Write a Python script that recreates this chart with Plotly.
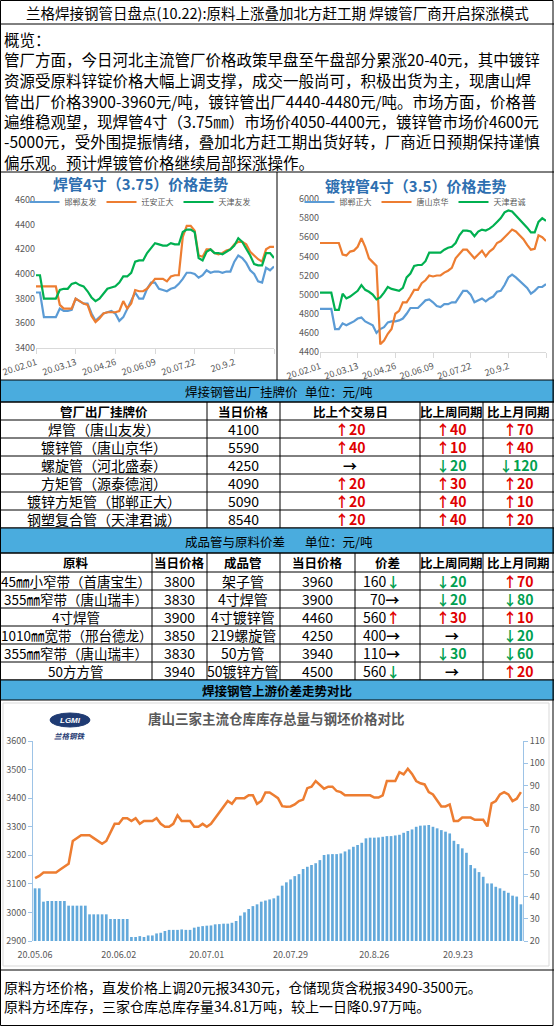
import plotly.graph_objects as go

W, H = 554, 1027
FONT = "Noto Sans CJK SC"
RED = "#E00000"
GREEN = "#00A050"
BAR_BLUE = "#4AACDE"
GRAY = "#595959"

# ---------------- text ----------------
title_text = "兰格焊接钢管日盘点(10.22):原料上涨叠加北方赶工期 焊镀管厂商开启探涨模式"
overview_lines = [
    "概览：",
    "管厂方面，今日河北主流管厂价格政策早盘至午盘部分累涨20-40元，其中镀锌",
    "资源受原料锌锭价格大幅上调支撑，成交一般尚可，积极出货为主，现唐山焊",
    "管出厂价格3900-3960元/吨，镀锌管出厂4440-4480元/吨。市场方面，价格普",
    "遍维稳观望，现焊管4寸（3.75㎜）市场价4050-4400元，镀锌管市场价4600元",
    "-5000元，受外围提振情绪，叠加北方赶工期出货好转，厂商近日预期保持谨慎",
    "偏乐观。预计焊镀管价格继续局部探涨操作。",
]
bottom_lines = [
    "原料方坯价格，直发价格上调20元报3430元，仓储现货含税报3490-3500元。",
    "原料方坯库存，三家仓库总库存量34.81万吨，较上一日降0.97万吨。",
]

# ---------------- chart 1: 焊管4寸 ----------------
weld_title = "焊管4寸（3.75）价格走势"
weld_tick_pos = [0, 10, 20, 30, 40, 50, 60]
weld_tick_labels = ["20.02.01", "20.03.13", "20.04.26", "20.06.09", "20.07.22", "20.9.2", ""]
weld_names = ["邯郸友发", "迁安正大", "天津友发"]
weld_handan = [3850, 3850, 3650, 3650, 3650, 3650, 3720, 3700, 3700, 3710,
               3800, 3780, 3760, 3760, 3680, 3620, 3650, 3680, 3690, 3700,
               3680, 3620, 3650, 3720, 3790, 3850, 3800, 3800, 3880, 3930,
               3930, 3880, 3870, 3860, 3880, 3890, 3920, 3960, 4010, 4010,
               4000, 3970, 3990, 4030, 4010, 4020, 4020, 4010, 4020, 4020,
               4100, 4150, 4130, 4090, 4030, 4000, 3940, 3930, 4050, 4030,
               4060]
weld_qianan = [3900, 3900, 3900, 3900, 3900, 3900, 3750, 3720, 3720, 3720,
               3800, 3780, 3760, 3750, 3660, 3610, 3640, 3680, 3690, 3690,
               3690, 3700, 3780, 3720, 3760, 3870, 3860, 3860, 3880, 3920,
               3960, 3960, 3960, 3940, 3980, 3990, 3990, 4300, 4390, 4390,
               4350, 4150, 4140, 4200, 4200, 4170, 4160, 4170, 4190, 4200,
               4240, 4260, 4260, 4240, 4180, 4150, 4120, 4100, 4200, 4220,
               4220]
weld_tianjin = [3990, 3990, 3800, 3800, 3800, 3800, 3870, 3880, 3880, 3920,
                3930, 3910, 3900, 3860, 3810, 3780, 3800, 3840, 3880, 3890,
                3900, 3930, 3980, 3980, 4010, 4100, 4110, 4110, 4170, 4210,
                4250, 4240, 4230, 4230, 4250, 4240, 4240, 4340, 4360, 4360,
                4340, 4130, 4110, 4180, 4200, 4170, 4170, 4160, 4180, 4200,
                4230, 4290, 4260, 4210, 4150, 4080, 4070, 4070, 4170, 4170,
                4130]

# ---------------- chart 2: 镀锌管4寸 ----------------
galv_title = "镀锌管4寸（3.5）价格走势"
galv_tick_pos = [0, 10, 20, 30, 40, 50, 60]
galv_tick_labels = ["20.02.01", "20.03.13", "20.04.26", "20.06.09", "20.07.22", "20.9.2", ""]
galv_names = ["邯郸正大", "唐山京华", "天津君诚"]
galv_handan = [4850, 4850, 4850, 4850, 4640, 4640, 4700, 4680, 4700, 4720,
               4750, 4760, 4720, 4700, 4680, 4600, 4640, 4660, 4710, 4720,
               4720, 4730, 4750, 4800, 4860, 4860, 4860, 4900, 4940, 4950,
               4920, 4880, 4870, 4900, 4900, 4920, 4920, 4980, 5040, 5040,
               5000, 4920, 4940, 4960, 4930, 4960, 4980, 5030, 5040, 5100,
               5180, 5210, 5180, 5140, 5100, 5070, 5010, 5040, 5080, 5080,
               5110]
galv_tangshan = [5540, 5540, 5540, 5540, 5540, 5540, 5420, 5410, 5450, 5460,
                 5500, 5590, 5500, 5380, 5340, 5300, 4480, 4520, 4590, 4640,
                 4800, 4830, 4920, 4920, 4980, 5050, 5050, 5120, 5150, 5200,
                 5190, 5200, 5200, 5230, 5250, 5280, 5380, 5430, 5470, 5470,
                 5420, 5380, 5420, 5460, 5400, 5450, 5480, 5540, 5560, 5600,
                 5640, 5680, 5660, 5620, 5580, 5520, 5470, 5480, 5620, 5600,
                 5560]
galv_tianjin = [5020, 5020, 5020, 5020, 4840, 4840, 5010, 4960, 4980, 5010,
                5040, 5100, 5050, 5030, 5000, 4950, 4970, 5020, 5080, 5060,
                5050, 5040, 5070, 5180, 5220, 5300, 5310, 5310, 5350, 5440,
                5440, 5440, 5440, 5470, 5490, 5500, 5540, 5620, 5670, 5670,
                5660, 5610, 5660, 5680, 5670, 5690, 5720, 5760, 5800, 5860,
                5880, 5870, 5830, 5780, 5740, 5700, 5650, 5650, 5760, 5800,
                5770]

# ---------------- table 1 ----------------
t1_title = "焊接钢管出厂挂牌价"
t1_unit = "单位：元/吨"
t1_headers = ["管厂出厂挂牌价", "当日价格", "比上个交易日", "比上周同期", "比上月同期"]
t1_products = ["焊管（唐山友发）", "镀锌管（唐山京华）", "螺旋管（河北盛泰）",
               "方矩管（源泰德润）", "镀锌方矩管（邯郸正大）", "钢塑复合管（天津君诚）"]
t1_price = [4100, 5590, 4250, 4090, 5090, 8540]
t1_day = [20, 40, 0, 20, 20, 20]
t1_week = [40, 10, -20, 30, 40, 40]
t1_month = [70, 40, -120, 20, 10, 20]

# ---------------- table 2 ----------------
t2_title = "成品管与原料价差"
t2_unit = "单位：元/吨"
t2_headers = ["原料", "当日价格", "成品管", "当日价格", "价差", "比上周同期", "比上月同期"]
t2_raw = ["45㎜小窄带（首唐宝生）", "355㎜窄带（唐山瑞丰）", "4寸焊管",
          "1010㎜宽带（邢台德龙）", "355㎜窄带（唐山瑞丰）", "50方方管"]
t2_raw_price = [3800, 3830, 3900, 3850, 3830, 3940]
t2_pipe = ["架子管", "4寸焊管", "4寸镀锌管", "219螺旋管", "50方管", "50镀锌方管"]
t2_pipe_price = [3960, 3900, 4460, 4250, 3940, 4500]
t2_spread = [160, 70, 560, 400, 110, 560]
t2_spread_trend = [-1, 0, 1, 0, 0, -1]
t2_week = [-20, -20, 30, 0, -30, 0]
t2_month = [70, -80, 10, -20, -60, 20]

section3_title = "焊接钢管上游价差走势对比"

# ---------------- bottom chart ----------------
stock_title = "唐山三家主流仓库库存总量与钢坯价格对比"
stock_tick_pos = [0, 20, 41, 61, 81, 101]
stock_tick_labels = ["20.05.06", "20.06.02", "20.07.01", "20.07.29", "20.8.26", "20.9.23"]
billet_price = [3120, 3128, 3140, 3140, 3140, 3140, 3150, 3160, 3170, 3250,
                3260, 3270, 3270, 3270, 3260, 3250, 3240, 3250, 3280, 3310,
                3310, 3330, 3330, 3320, 3330, 3310, 3320, 3320, 3320, 3330,
                3310, 3300, 3300, 3310, 3340, 3320, 3320, 3320, 3300, 3300,
                3310, 3300, 3310, 3330, 3350, 3370, 3390, 3380, 3400, 3400,
                3400, 3410, 3410, 3380, 3390, 3420, 3420, 3410, 3400, 3372,
                3370, 3371, 3378, 3390, 3395, 3435, 3440, 3460, 3445, 3433,
                3440, 3440, 3425, 3421, 3410, 3410, 3410, 3410, 3410, 3410,
                3410, 3402, 3402, 3410, 3460, 3460, 3460, 3491, 3483, 3503,
                3485, 3460, 3452, 3448, 3421, 3413, 3392, 3371, 3371, 3378,
                3320, 3320, 3332, 3332, 3332, 3324, 3324, 3324, 3301, 3382,
                3390, 3413, 3421, 3413, 3390, 3398, 3421]
stock_total = [43.7, 43.7, 37.7, 38.0, 38.0, 38.0, 38.0, 38.0, 35.9, 35.9,
               35.9, 35.9, 35.9, 32.0, 32.0, 32.0, 32.0, 32.0, 29.9, 29.9,
               29.9, 29.9, 29.9, 21.8, 21.8, 22.2, 21.8, 22.5, 22.5, 23.4,
               23.7, 24.5, 25.0, 25.0, 25.0, 25.2, 25.0, 25.0, 26.0, 26.4,
               26.7, 26.9, 27.0, 27.5, 27.6, 27.8, 27.8, 28.2, 29.0, 31.4,
               32.9, 34.4, 35.7, 36.5, 37.7, 38.2, 38.7, 39.2, 40.4,
               44.9, 46.4, 47.7, 49.2, 50.1, 52.4, 53.4, 54.2, 55.0, 56.4,
               58.7, 59.0, 59.1, 59.1, 59.4, 60.3, 61.2, 62.4, 63.2, 64.2,
               66.2, 66.5, 66.5, 66.6, 66.9, 67.2, 67.2, 67.5, 67.8, 68.7,
               69.5, 70.2, 71.4, 71.9, 72.0, 72.2, 71.4, 70.7, 69.9, 69.2,
               68.4, 65.1, 63.6, 61.7, 59.7, 54.2, 52.7, 51.0, 48.9, 45.9,
               45.9, 44.4, 43.7, 42.6, 41.7, 40.4, 40.0, 36.5]

# ---------------- helpers ----------------
def px_x(x):
    return x / W


def px_y(y):
    return 1 - y / H


annotations = []
shapes = []


def ann(x, y, text, size, color="#000000", bold=False, xanchor="center", family=FONT):
    if bold:
        text = "<b>" + text + "</b>"
    annotations.append(dict(x=px_x(x), y=px_y(y), xref="paper", yref="paper", text=text,
                            showarrow=False, xanchor=xanchor, yanchor="middle", borderpad=0,
                            font=dict(size=size, color=color, family=family)))


def seg(x0, y0, x1, y1, color="#000000", width=1):
    shapes.append(dict(type="line", xref="paper", yref="paper", x0=px_x(x0), y0=px_y(y0),
                       x1=px_x(x1), y1=px_y(y1), line=dict(color=color, width=width)))


def box(x0, y0, x1, y1, fill=None, color="#000000", width=1, kind="rect"):
    d = dict(type=kind, xref="paper", yref="paper", x0=px_x(x0), y0=px_y(y0),
             x1=px_x(x1), y1=px_y(y1), line=dict(color=color, width=width))
    if fill:
        d["fillcolor"] = fill
    shapes.append(d)


def chg(v):
    if v > 0:
        return '<span style="color:%s"><b>↑%d</b></span>' % (RED, v)
    if v < 0:
        return '<span style="color:%s"><b>↓%d</b></span>' % (GREEN, -v)
    return "<b>→</b>"


def trend_arrow(t):
    if t > 0:
        return '<span style="color:%s"><b>↑</b></span>' % RED
    if t < 0:
        return '<span style="color:%s"><b>↓</b></span>' % GREEN
    return "<b>→</b>"


fig = go.Figure()

# ---------------- small line charts ----------------
colors3 = ["#5B9BD5", "#ED7D31", "#00B050"]
for nm, vals, col in zip(weld_names, [weld_handan, weld_qianan, weld_tianjin], colors3):
    fig.add_trace(go.Scatter(y=vals, mode="lines", name=nm, line=dict(color=col, width=2.2),
                             xaxis="x", yaxis="y", legend="legend", hoverinfo="skip"))
for nm, vals, col in zip(galv_names, [galv_handan, galv_tangshan, galv_tianjin], colors3):
    fig.add_trace(go.Scatter(y=vals, mode="lines", name=nm, line=dict(color=col, width=2.2),
                             xaxis="x2", yaxis="y2", legend="legend2", hoverinfo="skip"))

# ---------------- bottom chart ----------------
fig.add_trace(go.Bar(y=stock_total, xaxis="x3", yaxis="y3", marker=dict(color="#63A9DB", line=dict(width=0)),
                     showlegend=False, hoverinfo="skip"))
fig.add_trace(go.Scatter(y=billet_price, mode="lines", xaxis="x3", yaxis="y4",
                         line=dict(color="#ED7D31", width=2.5), showlegend=False, hoverinfo="skip"))

tickfont = dict(size=9, color=GRAY, family=FONT)


def small_x(domain, tpos, tlab):
    return dict(domain=domain, range=[0, 60], showgrid=False, zeroline=False, showline=True,
                linecolor="#D9D9D9", linewidth=1, ticks="outside", ticklen=5, tickcolor="#D9D9D9",
                tickvals=tpos, ticktext=tlab, tickangle=-18, tickfont=tickfont, automargin=False)


def small_y(domain, rng):
    return dict(domain=domain, range=rng, dtick=200, showgrid=False, zeroline=False,
                showline=False, ticks="", tickfont=tickfont, automargin=False)


axis_blue = "#9DC3E6"

layout = dict(
    width=W, height=H, margin=dict(l=0, r=0, t=0, b=0, pad=0, autoexpand=False),
    paper_bgcolor="white", plot_bgcolor="white", showlegend=True, hovermode=False,
    bargap=0.36,
    xaxis=dict(small_x([px_x(36), px_x(274)], weld_tick_pos, weld_tick_labels), anchor="y"),
    yaxis=dict(small_y([px_y(348), px_y(200)], [3400, 4600]), anchor="x"),
    xaxis2=dict(small_x([px_x(320), px_x(546)], galv_tick_pos, galv_tick_labels), anchor="y2"),
    yaxis2=dict(small_y([px_y(352), px_y(199)], [4400, 6000]), anchor="x2"),
    xaxis3=dict(domain=[px_x(33), px_x(523)], range=[-0.5, 116.5], anchor="y3", showgrid=False,
                zeroline=False, showline=False, ticks="outside", ticklen=5,
                tickcolor="rgba(0,0,0,0)", tickvals=stock_tick_pos,
                ticktext=stock_tick_labels, tickangle=0, tickfont=tickfont, automargin=False),
    yaxis3=dict(domain=[px_y(941), px_y(741)], range=[20, 110], dtick=10, side="right", anchor="x3",
                showgrid=False, zeroline=False, showline=True, linecolor=axis_blue, ticks="outside",
                ticklen=4, tickcolor=axis_blue, tickfont=tickfont, automargin=False),
    yaxis4=dict(range=[2900, 3600], dtick=100, side="left", overlaying="y3", anchor="x3",
                showgrid=False, zeroline=False, showline=True, linecolor=axis_blue, ticks="outside",
                ticklen=4, tickcolor=axis_blue, tickfont=tickfont, automargin=False),
    legend=dict(orientation="h", x=px_x(140), xanchor="center", y=px_y(202), yanchor="middle",
                font=dict(size=8, color=GRAY, family=FONT), bgcolor="rgba(0,0,0,0)",
                itemwidth=30, itemclick=False),
    legend2=dict(orientation="h", x=px_x(415), xanchor="center", y=px_y(202), yanchor="middle",
                 font=dict(size=8, color=GRAY, family=FONT), bgcolor="rgba(0,0,0,0)",
                 itemwidth=30, itemclick=False),
)

# ---------------- header + overview ----------------
ann(277, 13, title_text, 14.5)
seg(0, 24, W, 24)
for k, line in enumerate(overview_lines):
    ann(3, 39 + 20.5 * k, line, 15.5, xanchor="left")
seg(0, 172, W, 172)
seg(277, 172, 277, 380)

ann(140, 183, weld_title, 15, color="#2E6FB0", bold=True)
ann(415, 185, galv_title, 15, color="#2E6FB0", bold=True)

# ---------------- table 1 ----------------
box(0, 380, W, 402, fill=BAR_BLUE)
ann(184, 391, t1_title, 12.5, xanchor="left")
ann(304, 391, t1_unit, 12.5, xanchor="left")
t1_edges = [0, 207, 280, 420, 483, W]
t1_top, t1_hh, t1_rh = 402, 18, 18
n1 = len(t1_products)
t1_bottom = t1_top + t1_hh + n1 * t1_rh
for r in range(n1 + 2):
    yy = t1_top if r == 0 else t1_top + t1_hh + (r - 1) * t1_rh
    seg(0, yy, W, yy)
for e in t1_edges[1:-1]:
    seg(e, t1_top, e, t1_bottom)
c1 = [(t1_edges[i] + t1_edges[i + 1]) / 2 for i in range(len(t1_edges) - 1)]
for i, h in enumerate(t1_headers):
    ann(c1[i], t1_top + t1_hh / 2, h, 12.5, bold=True)
for r in range(n1):
    yc = t1_top + t1_hh + r * t1_rh + t1_rh / 2
    ann(c1[0], yc, t1_products[r], 14)
    ann(c1[1], yc, str(t1_price[r]), 14)
    ann(c1[2], yc, chg(t1_day[r]), 14)
    ann(c1[3], yc, chg(t1_week[r]), 14)
    ann(c1[4], yc, chg(t1_month[r]), 14)

# ---------------- table 2 ----------------
box(0, t1_bottom, W, 553, fill=BAR_BLUE)
ann(184, 541, t2_title, 12.5, xanchor="left")
ann(304, 541, t2_unit, 12.5, xanchor="left")
t2_edges = [0, 152, 207, 280, 355, 420, 483, W]
t2_top, t2_hh, t2_rh = 553, 19, 18
n2 = len(t2_raw)
t2_bottom = t2_top + t2_hh + n2 * t2_rh
for r in range(n2 + 2):
    yy = t2_top if r == 0 else t2_top + t2_hh + (r - 1) * t2_rh
    seg(0, yy, W, yy)
for e in t2_edges[1:-1]:
    seg(e, t2_top, e, t2_bottom)
c2 = [(t2_edges[i] + t2_edges[i + 1]) / 2 for i in range(len(t2_edges) - 1)]
for i, h in enumerate(t2_headers):
    ann(c2[i], t2_top + t2_hh / 2, h, 12.5, bold=True)
for r in range(n2):
    yc = t2_top + t2_hh + r * t2_rh + t2_rh / 2
    ann(c2[0], yc, t2_raw[r], 13.5)
    ann(c2[1], yc, str(t2_raw_price[r]), 14)
    ann(c2[2], yc, t2_pipe[r], 14)
    ann(c2[3], yc, str(t2_pipe_price[r]), 14)
    ann(t2_edges[5] - 19, yc, str(t2_spread[r]) + trend_arrow(t2_spread_trend[r]), 14, xanchor="right")
    ann(c2[5], yc, chg(t2_week[r]), 14)
    ann(c2[6], yc, chg(t2_month[r]), 14)

# ---------------- section 3 ----------------
box(0, t2_bottom, W, 700, fill=BAR_BLUE)
ann(277, 690, section3_title, 12.5, bold=True)
box(3, 703, 549, 966, color="#D9D9D9")
ann(276, 718, stock_title, 13.5, color=GRAY, bold=True)
box(50, 713, 90, 727, fill="#1F3B73", color="#1F3B73", kind="circle")
ann(70, 720, "<i>LGMI</i>", 8, color="white", bold=True, family="Liberation Sans")
ann(70, 735, "<i>兰格钢铁</i>", 7.5, color="#1F3B73", bold=True)

seg(0, 970, W, 970)
for k, line in enumerate(bottom_lines):
    ann(3, 987 + 18.5 * k, line, 14, xanchor="left")

box(0.5, 0.5, W - 1, H - 1.5)

layout["annotations"] = annotations
layout["shapes"] = shapes
fig.update_layout(**layout)

fig.write_html("out.html", config={"displayModeBar": False},
               post_script="document.body.style.margin='0';")
